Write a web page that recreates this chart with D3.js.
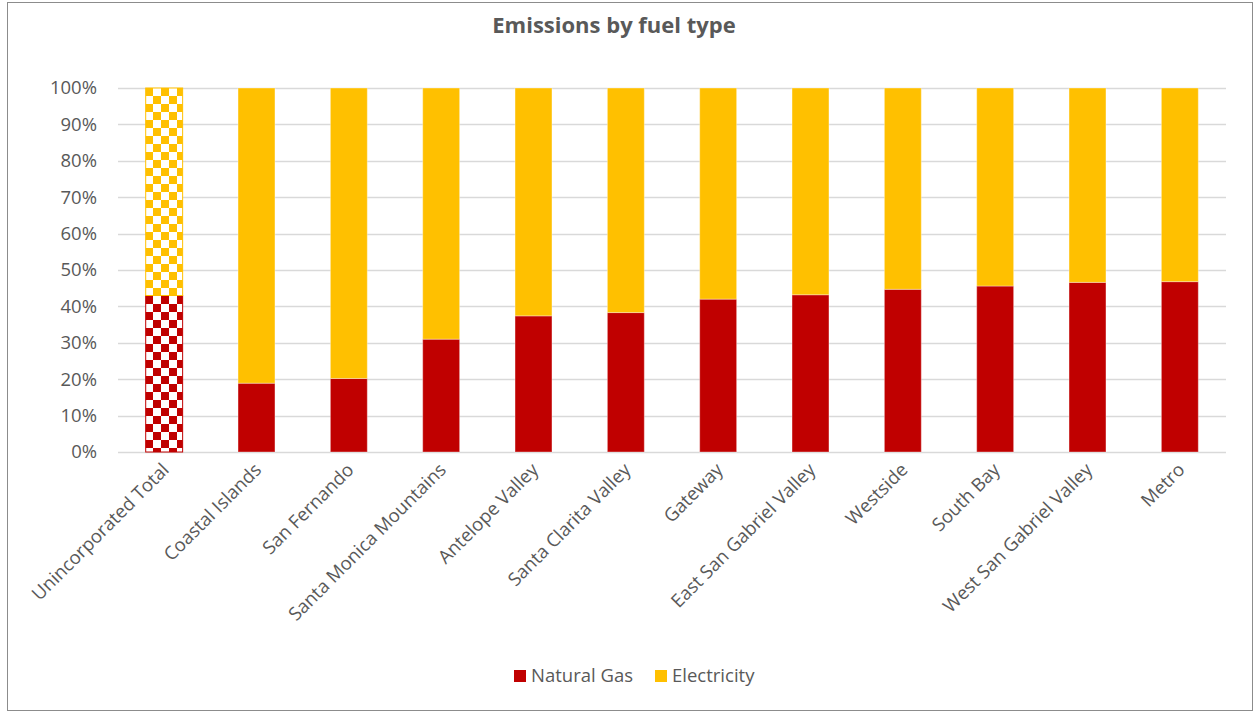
<!DOCTYPE html>
<html><head><meta charset="utf-8">
<script src="https://cdn.jsdelivr.net/npm/d3@7"></script>
<style>body{margin:0;background:#fff;}svg{display:block;font-family:"Open Sans","Liberation Sans",Arial,sans-serif;}</style>
</head><body>
<svg id="c" width="1254" height="712"></svg>
<script>
const categories = ["Unincorporated Total","Coastal Islands","San Fernando","Santa Monica Mountains","Antelope Valley","Santa Clarita Valley","Gateway","East San Gabriel Valley","Westside","South Bay","West San Gabriel Valley","Metro"];
const naturalGas = [0.430,0.189,0.202,0.310,0.374,0.383,0.420,0.432,0.447,0.456,0.466,0.468];
const electricity = naturalGas.map(v => 1 - v);
const seriesNames = ["Natural Gas","Electricity"];
const seriesColors = ["#C00000","#FFC000"];
const yTicks = [0,0.1,0.2,0.3,0.4,0.5,0.6,0.7,0.8,0.9,1.0];
const title = "Emissions by fuel type";

const svg = d3.select("#c");
const W = 1254, H = 712;
const m = {left:118, right:28, top:88, bottom:260};

// frame
svg.append("rect").attr("x",7.5).attr("y",2.5).attr("width",W-9).attr("height",H-4)
  .attr("fill","#fff").attr("stroke","#8c8c8c").attr("stroke-width",1);

// patterns
const defs = svg.append("defs");
seriesColors.forEach((c,i)=>{
  const p = defs.append("pattern").attr("id","chk"+i).attr("patternUnits","userSpaceOnUse")
    .attr("width",16).attr("height",16).attr("x",145).attr("y",88);
  p.append("rect").attr("width",16).attr("height",16).attr("fill","#fff");
  p.append("rect").attr("width",8).attr("height",8).attr("fill",c);
  p.append("rect").attr("x",8).attr("y",8).attr("width",8).attr("height",8).attr("fill",c);
});

const x = d3.scaleBand().domain(categories).range([m.left, W-m.right]).paddingInner(0.6).paddingOuter(0.3);
const y = d3.scaleLinear().domain([0,1]).range([H-m.bottom, m.top]);

// gridlines
svg.append("g").selectAll("line").data(yTicks).join("line")
  .attr("x1",m.left).attr("x2",W-m.right)
  .attr("y1",d=>Math.round(y(d))+0.5).attr("y2",d=>Math.round(y(d))+0.5)
  .attr("stroke","#d9d9d9").attr("stroke-width",1.5);

// y axis
const yAxis = d3.axisLeft(y).tickValues(yTicks).tickFormat(d3.format(".0%")).tickSize(0).tickPadding(21);
const ga = svg.append("g").attr("transform",`translate(${m.left},0)`).call(yAxis);
ga.select(".domain").remove();
ga.selectAll("text").attr("fill","#595959").style("font-size","18.5px").style("font-family","'Open Sans'");

// stacks
const data = categories.map((c,i)=>({cat:c, ng:naturalGas[i], el:electricity[i]}));
const stack = d3.stack().keys(["ng","el"])(data);
stack.forEach((s,si)=>{
  svg.append("g").selectAll("rect").data(s).join("rect")
    .attr("x",d=>x(d.data.cat)).attr("width",x.bandwidth())
    .attr("y",d=>y(d[1])).attr("height",d=>y(d[0])-y(d[1]))
    .attr("fill",(d,i)=> i===0 ? `url(#chk${si})` : seriesColors[si])
    .attr("stroke",(d,i)=> i===0 ? seriesColors[si] : "#fff")
    .attr("stroke-opacity",(d,i)=> i===0 ? 1 : 0.35)
    .attr("stroke-width",1);
});

// x labels
const gx = svg.append("g");
categories.forEach(c=>{
  const cx = x(c)+x.bandwidth()/2;
  gx.append("text").attr("transform",`translate(${cx+6},${H-m.bottom+19}) rotate(-45)`)
    .attr("text-anchor","end").attr("fill","#595959").style("font-size","18.5px").text(c);
});

// title
svg.append("text").attr("x",614).attr("y",33).attr("text-anchor","middle")
  .attr("fill","#595959").style("font-size","22px").style("font-weight","bold").text(title);

// legend
const lg = svg.append("g");
const lx = [514, 655];
seriesNames.forEach((n,i)=>{
  lg.append("rect").attr("x",lx[i]).attr("y",670).attr("width",12).attr("height",12).attr("fill",seriesColors[i]);
  lg.append("text").attr("x",lx[i]+17).attr("y",682).attr("fill","#595959").style("font-size","18.5px").text(n);
});
</script>
</body></html>
